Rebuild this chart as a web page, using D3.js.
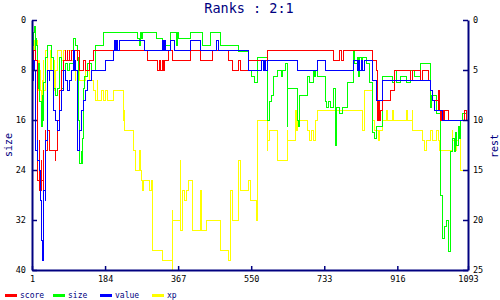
<!DOCTYPE html>
<html>
<head>
<meta charset="utf-8">
<script src="https://cdn.jsdelivr.net/npm/d3@7"></script>
<style>
  body { margin: 0; background: #fff; }
  svg { display: block; }
</style>
</head>
<body>
<svg id="chart" width="500" height="300"></svg>
<script>
const title = "Ranks : 2:1";
const xTicks = [1, 184, 367, 550, 733, 916, 1093];
const leftTicks = [0, 8, 16, 24, 32, 40];
const rightTicks = [0, 5, 10, 15, 20, 25];
const xMax = 1093;

// step points: [index, rank], each value holds until the next index
const score = [[1,3],[4,4],[6,3],[11,4],[14,13],[16,16],[19,12],[21,17],[24,14],[26,16],[29,13],[31,17],[34,11],[36,13],[39,10],[41,11],[44,12],[46,13],[59,14],[61,13],[66,10],[71,7],[76,5],[79,4],[84,3],[86,4],[89,3],[91,4],[94,3],[96,4],[101,3],[114,4],[116,3],[121,5],[131,4],[136,5],[146,4],[154,3],[291,4],[316,5],[320,4],[322,5],[327,4],[330,5],[334,4],[342,3],[354,4],[397,3],[422,4],[452,3],[492,4],[502,5],[517,4],[522,5],[542,4],[590,3],[757,4],[772,3],[777,4],[781,3],[853,4],[863,5],[866,10],[869,8],[871,10],[874,9],[878,8],[900,7],[910,5],[948,6],[953,5],[973,6],[978,5],[995,6],[998,7],[1003,8],[1018,9],[1019,7],[1021,9],[1023,10],[1025,9],[1027,10],[1029,9],[1031,10],[1033,9],[1043,10],[1085,9],[1090,10]];

const size = [[1,7],[3,4],[5,2],[7,1],[9,5],[11,3],[13,4],[14,21],[16,11],[18,7],[21,13],[24,17],[27,12],[29,16],[31,10],[34,8],[36,6],[39,4],[51,6],[54,8],[56,11],[59,12],[66,11],[71,6],[74,8],[76,11],[79,8],[84,7],[91,8],[96,7],[104,3],[109,4],[114,6],[117,16],[120,23],[124,21],[126,23],[128,19],[130,11],[133,9],[141,7],[151,8],[159,4],[179,2],[266,3],[269,4],[272,2],[275,3],[279,2],[314,3],[327,4],[347,2],[362,4],[366,2],[369,3],[397,2],[427,4],[447,2],[472,4],[517,5],[542,8],[552,9],[559,10],[567,6],[590,16],[595,13],[600,12],[605,9],[615,8],[625,9],[628,8],[635,7],[640,17],[642,11],[665,16],[668,17],[672,12],[690,9],[697,10],[705,8],[708,9],[711,8],[717,9],[735,13],[739,14],[743,13],[748,14],[755,11],[760,20],[763,14],[772,15],[778,14],[790,10],[805,5],[808,7],[815,6],[818,9],[822,6],[827,8],[830,6],[838,7],[847,10],[855,18],[860,19],[865,17],[880,9],[905,10],[910,8],[913,10],[925,9],[940,10],[948,8],[958,9],[973,7],[998,14],[1001,12],[1013,13],[1015,15],[1023,24],[1025,28],[1028,33],[1030,35],[1033,33],[1040,32],[1045,37],[1049,32],[1050,21],[1055,19],[1058,21],[1062,18],[1065,20],[1068,17],[1071,19],[1075,16],[1078,15],[1090,16]];

const value = [[1,5],[3,6],[5,4],[8,5],[10,13],[14,12],[16,14],[21,15],[23,18],[26,22],[28,24],[30,21],[31,17],[34,18],[36,12],[39,7],[41,5],[44,6],[46,5],[54,8],[56,9],[59,10],[64,11],[71,9],[74,7],[79,5],[84,6],[89,7],[94,6],[101,5],[104,3],[107,5],[109,4],[111,5],[116,13],[121,11],[124,9],[129,8],[134,7],[141,6],[151,5],[184,4],[204,3],[207,2],[210,3],[213,2],[216,3],[219,2],[284,3],[327,2],[330,3],[333,2],[335,3],[347,2],[359,3],[397,2],[422,3],[464,2],[469,3],[542,5],[577,4],[580,5],[583,4],[587,5],[590,4],[665,5],[717,4],[735,5],[805,4],[815,5],[818,4],[822,5],[826,4],[830,5],[834,4],[853,5],[855,6],[865,8],[878,7],[880,6],[1000,7],[1003,8],[1010,9],[1028,10]];

const xp = [[1,1],[2,2],[4,3],[6,2],[8,3],[11,2],[14,5],[15,3],[16,7],[18,4],[20,8],[21,5],[23,7],[25,10],[27,6],[29,4],[31,7],[34,4],[36,3],[39,5],[48,3],[50,5],[56,4],[58,7],[60,5],[66,3],[76,4],[79,3],[86,4],[91,3],[101,4],[104,5],[109,6],[111,5],[121,6],[136,5],[146,6],[156,7],[159,8],[164,6],[166,8],[176,7],[181,8],[186,7],[191,8],[204,7],[229,10],[231,9],[233,11],[254,13],[259,15],[271,13],[273,15],[276,16],[279,17],[281,16],[296,17],[301,16],[304,23],[327,24],[352,19],[353,25],[354,20],[372,14],[374,21],[377,17],[382,18],[389,17],[392,16],[402,21],[422,17],[425,21],[439,20],[472,23],[492,24],[497,20],[499,17],[502,20],[517,14],[522,17],[542,16],[547,18],[564,20],[567,10],[590,13],[592,12],[597,11],[615,13],[617,14],[640,11],[642,12],[660,9],[663,11],[665,10],[690,11],[697,12],[700,11],[705,12],[710,10],[715,9],[830,11],[835,7],[855,10],[860,11],[865,11],[870,12],[872,11],[880,10],[890,9],[892,10],[905,9],[907,10],[940,9],[942,10],[953,9],[955,11],[978,12],[985,13],[990,12],[998,11],[1003,12],[1015,11],[1018,12],[1021,13],[1023,13],[1053,11],[1055,12],[1060,13],[1063,12],[1068,11],[1073,13],[1075,15]];

const seriesNames = ["score", "size", "value", "xp"];
const seriesColors = ["#ff0000", "#00ff00", "#0000ff", "#ffff00"];

const navy = "#000080";
const mono = "'DejaVu Sans Mono', monospace";
const margin = { left: 32, right: 32, top: 20, bottom: 30 };
const svg = d3.select("#chart");
const width = +svg.attr("width");
const height = +svg.attr("height");

const x = d3.scaleLinear().domain([1, xMax]).range([margin.left, width - margin.right]);
const yLeft = d3.scaleLinear().domain([0, 40]).range([margin.top, height - margin.bottom]);
const yRight = d3.scaleLinear().domain([0, 25]).range([margin.top, height - margin.bottom]);

// size is read on the left axis, the rest on the right one
const series = [
  { name: "xp", data: xp, y: yRight },
  { name: "size", data: size, y: yLeft },
  { name: "score", data: score, y: yRight },
  { name: "value", data: value, y: yRight },
];

series.forEach((s) => {
  const pts = s.data.concat([[xMax, s.data[s.data.length - 1][1]]]);
  const line = d3.line()
    .x((d) => x(d[0]))
    .y((d) => s.y(d[1]))
    .curve(d3.curveStepAfter);
  svg.append("path")
    .datum(pts)
    .attr("fill", "none")
    .attr("stroke", seriesColors[seriesNames.indexOf(s.name)])
    .attr("stroke-width", 1)
    .attr("shape-rendering", "crispEdges")
    .attr("d", line);
});

// axes, ticks point inwards
const styleAxis = (g) => {
  g.select(".domain").attr("stroke", navy).attr("stroke-width", 2);
  g.selectAll(".tick line").attr("stroke", navy).attr("stroke-width", 1.5);
  g.selectAll(".tick text").attr("fill", "#000").attr("font-family", mono).attr("font-size", 8.5);
};

svg.append("g")
  .attr("transform", `translate(0,${height - margin.bottom})`)
  .call(d3.axisBottom(x).tickValues(xTicks).tickFormat(d3.format("d")).tickSizeInner(-4).tickSizeOuter(0).tickPadding(6))
  .call(styleAxis);

svg.append("g")
  .attr("transform", `translate(${margin.left},0)`)
  .call(d3.axisLeft(yLeft).tickValues(leftTicks).tickSizeInner(-5).tickSizeOuter(0).tickPadding(6))
  .call(styleAxis);

svg.append("g")
  .attr("transform", `translate(${width - margin.right},0)`)
  .call(d3.axisRight(yRight).tickValues(rightTicks).tickSizeInner(-5).tickSizeOuter(0).tickPadding(5))
  .call(styleAxis);

svg.append("text")
  .attr("x", 249).attr("y", 13)
  .attr("text-anchor", "middle")
  .attr("font-family", mono).attr("font-size", 13.5)
  .attr("fill", navy)
  .text(title);

svg.append("text")
  .attr("transform", "translate(12,145) rotate(-90)")
  .attr("text-anchor", "middle")
  .attr("font-family", mono).attr("font-size", 10)
  .attr("fill", navy)
  .text("size");

svg.append("text")
  .attr("transform", "translate(498,146) rotate(-90)")
  .attr("text-anchor", "middle")
  .attr("font-family", mono).attr("font-size", 10)
  .attr("fill", navy)
  .text("rest");

// legend
const legendX = [5, 53, 100, 152];
const legend = svg.append("g").attr("transform", "translate(0,295)");
seriesNames.forEach((name, i) => {
  legend.append("line")
    .attr("x1", legendX[i]).attr("x2", legendX[i] + 12)
    .attr("y1", 0).attr("y2", 0)
    .attr("stroke", seriesColors[i]).attr("stroke-width", 3)
    .attr("shape-rendering", "crispEdges");
  legend.append("text")
    .attr("x", legendX[i] + 15).attr("y", 3)
    .attr("font-family", mono).attr("font-size", 8)
    .attr("fill", navy)
    .text(name);
});
</script>
</body>
</html>
